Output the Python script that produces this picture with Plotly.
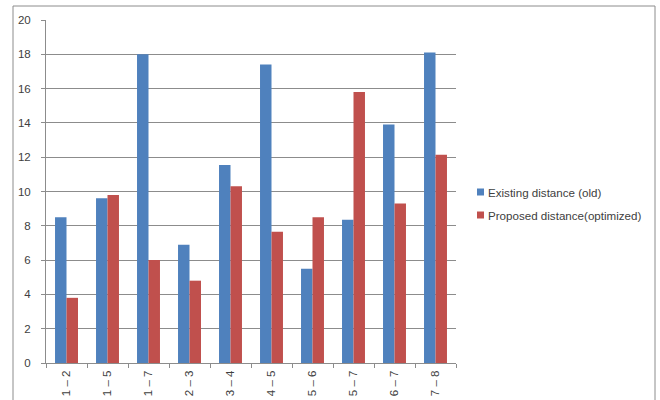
import plotly.graph_objects as go

categories = ["1 – 2", "1 – 5", "1 – 7", "2 – 3", "3 – 4", "4 – 5", "5 – 6", "5 – 7", "6 – 7", "7 – 8"]
existing = [8.5, 9.6, 18.0, 6.9, 11.55, 17.4, 5.5, 8.35, 13.9, 18.1]
proposed = [3.8, 9.8, 6.0, 4.8, 10.3, 7.65, 8.5, 15.8, 9.3, 12.15]
series_names = ["Existing distance (old)", "Proposed distance(optimized)"]
y_ticks = [0, 2, 4, 6, 8, 10, 12, 14, 16, 18, 20]

BLUE = "#4F81BD"
RED = "#C0504D"
TXT = "#404040"
FONT = "Liberation Sans"
GRID = "#8C8C8C"

fig = go.Figure()
fig.add_trace(go.Bar(x=categories, y=existing, name=series_names[0], marker_color=BLUE, marker_line_width=0))
fig.add_trace(go.Bar(x=categories, y=proposed, name=series_names[1], marker_color=RED, marker_line_width=0))

L, R, T, B = 46, 204, 20, 37
W, H = 660, 400
pw, ph = W - L - R, H - T - B

def px_x(x):
    return (x - L) / pw

def px_y(y):
    return (H - B - y) / ph

shapes = [dict(
    type="rect", xref="paper", yref="paper",
    x0=px_x(13), x1=px_x(655), y0=px_y(410), y1=px_y(6),
    line=dict(color=GRID, width=1), fillcolor="rgba(0,0,0,0)", layer="below",
)]
annotations = []
legend_rows = [192, 215]
for name, color, ly in zip(series_names, [BLUE, RED], legend_rows):
    shapes.append(dict(
        type="rect", xref="paper", yref="paper",
        x0=px_x(477), x1=px_x(484), y0=px_y(ly + 3.5), y1=px_y(ly - 3.5),
        line=dict(width=0), fillcolor=color,
    ))
    annotations.append(dict(
        xref="paper", yref="paper", x=px_x(486), y=px_y(ly), text=name,
        showarrow=False, xanchor="left", yanchor="middle",
        font=dict(family=FONT, size=11.6, color=TXT),
    ))

fig.update_layout(
    width=W, height=H,
    margin=dict(l=L, r=R, t=T, b=B, pad=0),
    paper_bgcolor="white", plot_bgcolor="white",
    barmode="group", bargap=0.44, bargroupgap=0,
    font=dict(family=FONT, size=11, color=TXT),
    showlegend=False,
    shapes=shapes,
    annotations=annotations,
)
fig.update_yaxes(
    range=[0, 20], tickvals=y_ticks, showgrid=True, gridcolor=GRID, gridwidth=1,
    showline=True, linecolor=GRID, ticks="outside", ticklen=4, tickcolor=GRID,
    ticklabelstandoff=8, automargin=False,
    zeroline=False, tickfont=dict(size=11.5, color=TXT), fixedrange=True,
)
fig.update_xaxes(
    showline=True, linecolor=GRID, ticks="outside", ticklen=4, tickcolor=GRID,
    tickson="boundaries", tickangle=-90, automargin=False, ticklabelstandoff=2,
    tickfont=dict(size=11.5, color=TXT), showgrid=False,
)

fig.write_html("out.html")
